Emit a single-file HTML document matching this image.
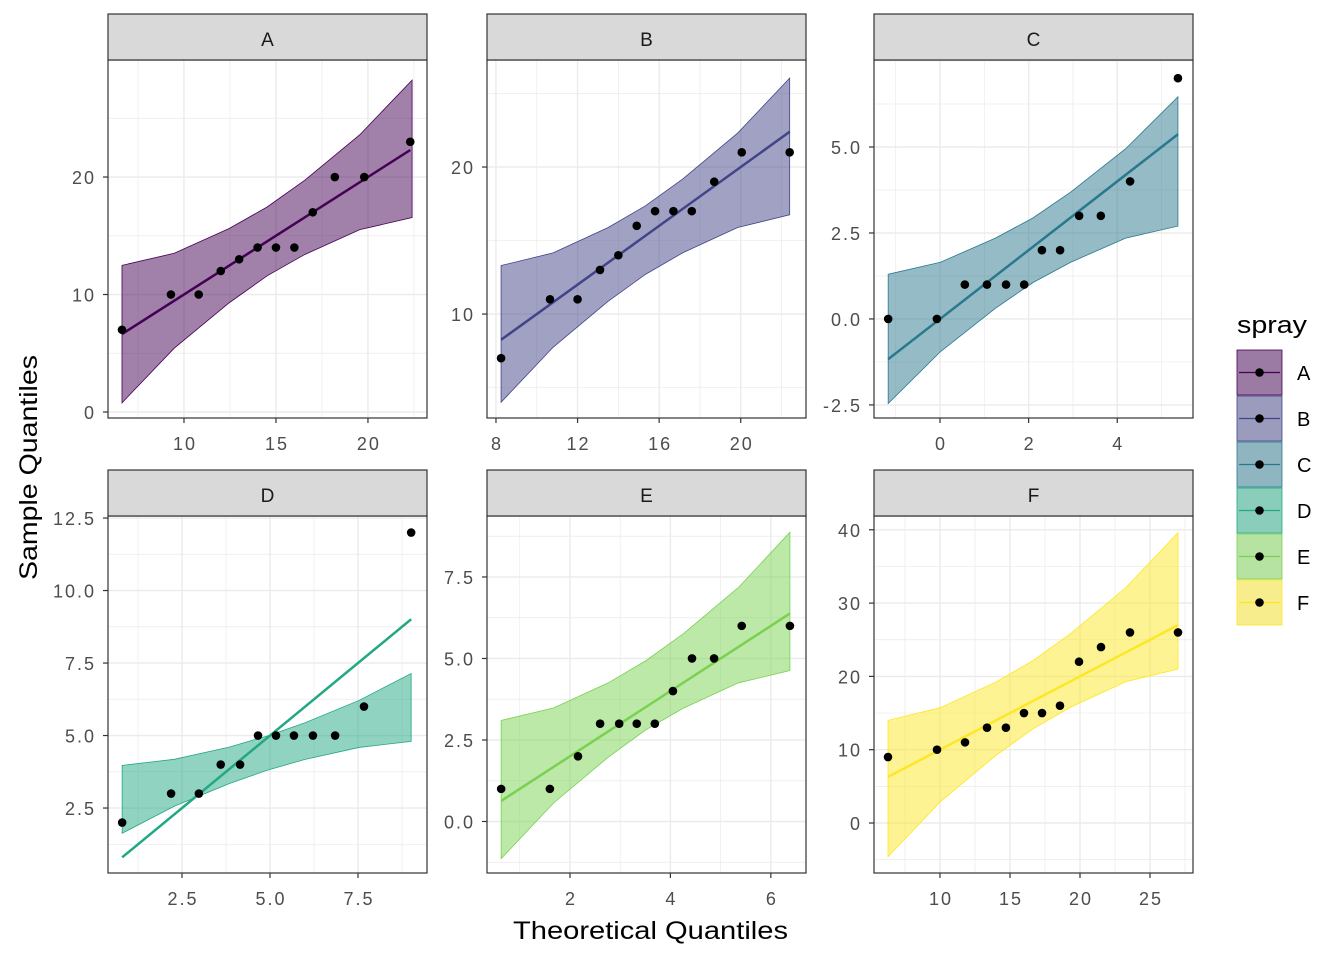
<!DOCTYPE html>
<html><head><meta charset="utf-8"><style>
body{margin:0;background:#fff;}
svg{display:block;font-family:"Liberation Sans",Arial,sans-serif;}
</style></head><body>
<svg id="chart" width="1344" height="960" xmlns="http://www.w3.org/2000/svg"></svg>
<script>
const panelNames = ["A","B","C","D","E","F"];
const colors = ["#440154","#414487","#2A788E","#22A884","#7AD151","#FDE725"];
const theoX = [
 [6.63,9.29,10.8,12.0,13.0,14.0,15.0,16.0,17.0,18.2,19.8,22.3],
 [8.25,10.65,12.0,13.1,14.0,14.9,15.8,16.7,17.6,18.7,20.05,22.4],
 [-1.17,-0.07,0.56,1.06,1.49,1.90,2.30,2.71,3.14,3.63,4.29,5.37],
 [0.80,2.19,2.98,3.60,4.15,4.66,5.17,5.68,6.22,6.85,7.67,9.01],
 [0.63,1.60,2.16,2.60,2.98,3.33,3.69,4.05,4.43,4.87,5.42,6.38],
 [6.29,9.79,11.79,13.36,14.71,16.0,17.29,18.57,19.93,21.5,23.57,27.0]
];
const sampleY = [
 [7,10,10,12,13,14,14,14,17,20,20,23],
 [7,11,11,13,14,16,17,17,17,19,21,21],
 [0,0,1,1,1,1,2,2,3,3,4,7],
 [2,3,3,4,4,5,5,5,5,5,6,12],
 [1,1,2,3,3,3,3,4,5,5,6,6],
 [9,10,11,13,13,15,15,16,22,24,26,26]
];
const bandX = [
 [6.63,9.47,12.46,14.52,16.57,19.56,22.4],
 [8.25,10.80,13.49,15.33,17.16,19.85,22.4],
 [-1.17,0.01,1.25,2.10,2.95,4.19,5.37],
 [0.8,2.28,3.84,4.91,5.97,7.53,9.01],
 [0.63,1.67,2.76,3.51,4.25,5.35,6.38],
 [6.29,10.02,13.95,16.65,19.34,23.27,27]
];
const bandLo = [
 [0.78,5.43,9.30,11.59,13.41,15.52,16.55],
 [4.0,7.74,10.86,12.70,14.17,15.89,16.75],
 [-2.46,-0.95,0.31,1.06,1.65,2.35,2.70],
 [1.63,2.56,3.34,3.80,4.17,4.59,4.80],
 [-1.14,0.56,1.97,2.81,3.47,4.25,4.63],
 [-4.6,2.89,9.15,12.85,15.81,19.27,21.0]
];
const bandHi = [
 [12.48,13.51,15.62,17.45,19.73,23.60,28.25],
 [13.3,14.16,15.88,17.36,19.19,22.31,26.05],
 [1.30,1.65,2.35,2.94,3.69,4.95,6.46],
 [3.97,4.18,4.60,4.98,5.43,6.21,7.14],
 [3.10,3.48,4.25,4.93,5.75,7.17,8.87],
 [14.0,15.73,19.19,22.15,25.85,32.11,39.6]
];
const xTicks = [[10,15,20],[8,12,16,20],[0,2,4],[2.5,5.0,7.5],[2,4,6],[10,15,20,25]];
const xTickLabels = [["10","15","20"],["8","12","16","20"],["0","2","4"],["2.5","5.0","7.5"],["2","4","6"],["10","15","20","25"]];
const yTicks = [[0,10,20],[10,20],[-2.5,0,2.5,5],[2.5,5,7.5,10,12.5],[0,2.5,5,7.5],[0,10,20,30,40]];
const yTickLabels = [["0","10","20"],["10","20"],["-2.5","0.0","2.5","5.0"],["2.5","5.0","7.5","10.0","12.5"],["0.0","2.5","5.0","7.5"],["0","10","20","30","40"]];
const xDom = [[5.87,23.21],[7.56,23.2],[-1.49,5.71],[0.398,9.46],[0.348,6.70],[5.29,28.07]];
const yDom = [[-0.51,29.96],[2.93,27.28],[-2.88,7.53],[0.26,12.57],[-1.58,9.37],[-6.82,41.88]];

const NS="http://www.w3.org/2000/svg";
const svg=document.getElementById('chart');
function mk(tag,attrs,parent){const e=document.createElementNS(NS,tag);for(const k in attrs)e.setAttribute(k,attrs[k]);(parent||svg).appendChild(e);return e;}
const colsX=[[108,427],[487,806],[874,1193]];
const rowsY=[[60,418,14],[516,873,470]];

for(let p=0;p<6;p++){
  const [L,R]=colsX[p%3]; const [T,B,ST]=rowsY[Math.floor(p/3)];
  const g=mk('g',{});
  
  
  const sx=v=>L+(v-xDom[p][0])/(xDom[p][1]-xDom[p][0])*(R-L);
  const sy=v=>B-(v-yDom[p][0])/(yDom[p][1]-yDom[p][0])*(B-T);
  mk('rect',{x:L,y:T,width:R-L,height:B-T,fill:'#fff'},g);
  const xt=xTicks[p], yt=yTicks[p];
  const dx=xt[1]-xt[0], dy=yt[1]-yt[0];
  for(let v=xt[0]-dx*3;v<=xt[xt.length-1]+dx*3;v+=dx/2){const X=sx(v);if(X>L&&X<R){const major=xt.some(t=>Math.abs(t-v)<1e-9);mk('line',{x1:X,x2:X,y1:T,y2:B,stroke:'#ebebeb','stroke-width':major?1.4:0.7},g);}}
  for(let v=yt[0]-dy*3;v<=yt[yt.length-1]+dy*3;v+=dy/2){const Y=sy(v);if(Y>T&&Y<B){const major=yt.some(t=>Math.abs(t-v)<1e-9);mk('line',{x1:L,x2:R,y1:Y,y2:Y,stroke:'#ebebeb','stroke-width':major?1.4:0.7},g);}}
  let d='';
  bandX[p].forEach((x,i)=>{d+=(i?'L':'M')+sx(x)+','+sy(bandHi[p][i]);});
  for(let i=bandX[p].length-1;i>=0;i--)d+='L'+sx(bandX[p][i])+','+sy(bandLo[p][i]);
  const band=mk('path',{d:d+'Z',fill:colors[p],'fill-opacity':0.5,stroke:colors[p],'stroke-width':0.8},g);
  
  
  const x0=theoX[p][0],x1=theoX[p][theoX[p].length-1];
  const ln=mk('line',{x1:sx(x0),y1:sy(x0),x2:sx(x1),y2:sy(x1),stroke:colors[p],'stroke-width':2.5},g);
  
  
  theoX[p].forEach((x,i)=>{
    const c=mk('circle',{cx:sx(x),cy:sy(sampleY[p][i]),r:4.3,fill:'#000'},g);
    
    
  });
  mk('rect',{x:L,y:T,width:R-L,height:B-T,fill:'none',stroke:'#333','stroke-width':1.2},g);
  const sr=mk('rect',{x:L,y:ST,width:R-L,height:T-ST,fill:'#d9d9d9',stroke:'#333','stroke-width':1.2},g);
  
  
  const stt=mk('text',{x:(L+R)/2,y:ST+32,'text-anchor':'middle','font-size':19,fill:'#1a1a1a'},g);
  stt.textContent=panelNames[p];
  
  
  xt.forEach((v,i)=>{const X=sx(v);mk('line',{x1:X,x2:X,y1:B,y2:B+5,stroke:'#333','stroke-width':1.2},g);
    const t=mk('text',{x:X+1,y:B+32,'text-anchor':'middle','font-size':18,'letter-spacing':2,fill:'#4d4d4d'},g);t.textContent=xTickLabels[p][i];
    
    });
  yt.forEach((v,i)=>{const Y=sy(v);mk('line',{x1:L-5,x2:L,y1:Y,y2:Y,stroke:'#333','stroke-width':1.2},g);
    const t=mk('text',{x:L-12,y:Y+7,'text-anchor':'end','font-size':18,'letter-spacing':2,fill:'#4d4d4d'},g);t.textContent=yTickLabels[p][i];
    
    });
}
const xtl=mk('text',{x:513,y:939,'font-size':25,fill:'#000',textLength:275,lengthAdjust:'spacingAndGlyphs'});
xtl.textContent='Theoretical Quantiles';


const ytl=mk('text',{x:0,y:0,'font-size':25,fill:'#000',textLength:225,lengthAdjust:'spacingAndGlyphs',transform:'translate(37,580) rotate(-90)'});
ytl.textContent='Sample Quantiles';


const lg=mk('g',{});


const lt=mk('text',{x:1237,y:333,'font-size':24,fill:'#000',textLength:70,lengthAdjust:'spacingAndGlyphs'},lg);
lt.textContent='spray';


panelNames.forEach((n,i)=>{
  const y=350+i*46;
  const e=mk('g',{},lg);
  
  
  mk('rect',{x:1237,y:y,width:45,height:45,fill:'#f2f2f2'},e);
  mk('rect',{x:1237,y:y,width:45,height:45,fill:colors[i],'fill-opacity':0.5,stroke:colors[i],'stroke-width':0.8},e);
  mk('line',{x1:1239,x2:1280,y1:y+22.5,y2:y+22.5,stroke:colors[i],'stroke-width':1.2},e);
  mk('circle',{cx:1259.5,cy:y+22.5,r:4.3,fill:'#000'},e);
  const t=mk('text',{x:1297,y:y+30,'font-size':20,fill:'#000'},e);t.textContent=n;
});
</script>
</body></html>
